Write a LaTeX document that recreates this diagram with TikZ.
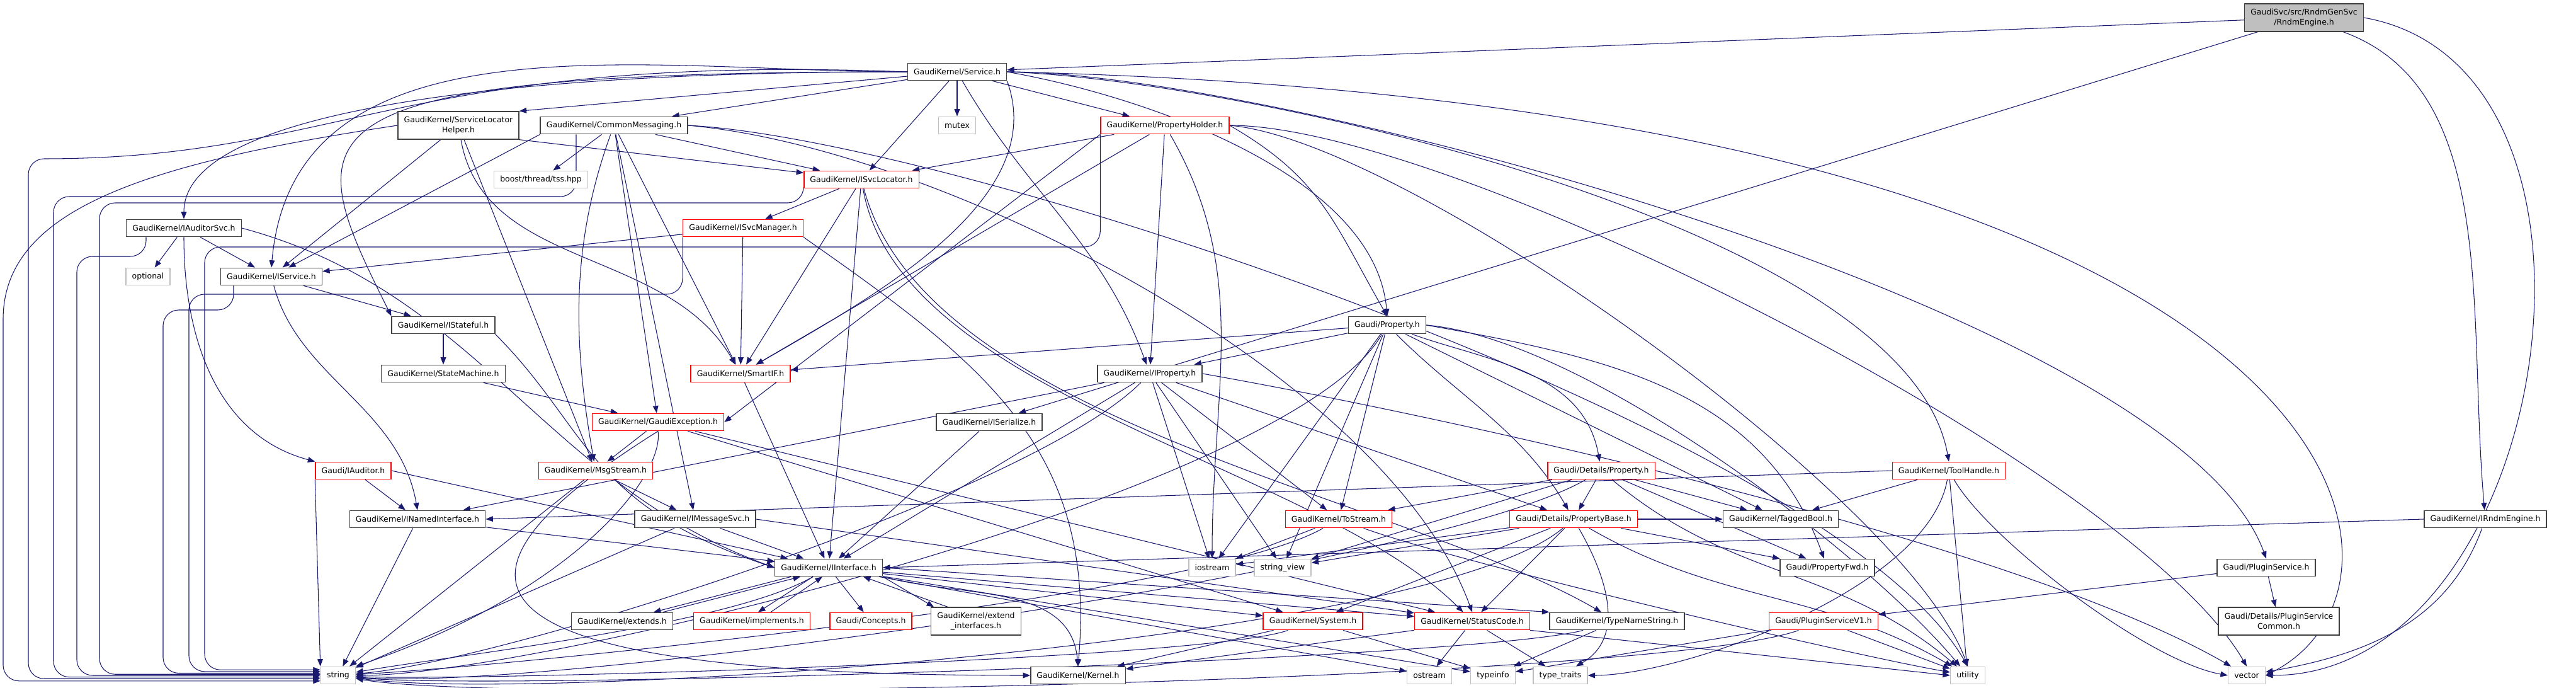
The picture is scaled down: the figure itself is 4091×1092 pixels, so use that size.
\documentclass[tikz,border=0pt]{standalone}
\usepackage{fontspec}
\setmainfont{DejaVu Sans}
\usepackage{tikz}
\usetikzlibrary{arrows.meta, positioning, backgrounds}
\definecolor{edgeblue}{RGB}{25,25,112}
\definecolor{hdrline}{RGB}{64,64,64}
\definecolor{sysline}{RGB}{191,191,191}
\definecolor{rootfill}{RGB}{191,191,191}
\definecolor{truncline}{RGB}{255,0,0}
\newcommand{\depfont}{\fontsize{7.1}{9}\selectfont}
\tikzset{
    hdr/.style={rectangle, draw=hdrline, fill=white, line width=0.8pt, font=\depfont, inner xsep=5.5pt, inner ysep=1pt, minimum height=15.6pt, align=center},
    twoline/.style={minimum height=25pt},
    hdrred/.style={hdr, draw=truncline},
    hdrsys/.style={hdr, draw=sysline},
    hdrroot/.style={hdr, fill=rootfill, twoline},
    dep/.style={-{Triangle[length=6.5pt, width=5pt]}, draw=edgeblue, line width=0.6pt},
    deplane/.style={dep, rounded corners=0.5cm}
}

\begin{document}
\begin{tikzpicture}[x=0.02cm, y=0.02cm]
    \useasboundingbox (0,0) rectangle (4091,1092);

    % Root file
    \node[hdrroot] (root) at (3659,1064) {GaudiSvc/src/RndmGenSvc\\/RndmEngine.h};

    % Service level
    \node[hdr] (svc) at (1520,978) {GaudiKernel/Service.h};
    \node[hdr, twoline] (slh) at (728,893) {GaudiKernel/ServiceLocator\\Helper.h};
    \node[hdr] (cmsg) at (975,893) {GaudiKernel/CommonMessaging.h};
    \node[hdrsys] (mutex) at (1520,893) {mutex};
    \node[hdrred] (pholder) at (1850,893) {GaudiKernel/PropertyHolder.h};
    \node[hdrsys] (boost) at (859,807) {boost/thread/tss.hpp};
    \node[hdrred] (isvcloc) at (1368,807) {GaudiKernel/ISvcLocator.h};
    \node[hdr] (iaudsvc) at (292,730) {GaudiKernel/IAuditorSvc.h};
    \node[hdrred] (isvcmgr) at (1180,730) {GaudiKernel/ISvcManager.h};
    \node[hdrsys] (optional) at (235,653) {optional};
    \node[hdr] (iservice) at (431,653) {GaudiKernel/IService.h};

    % Middle levels
    \node[hdr] (istateful) at (704,576) {GaudiKernel/IStateful.h};
    \node[hdr] (property) at (2203,576) {Gaudi/Property.h};
    \node[hdr] (smachine) at (704,499) {GaudiKernel/StateMachine.h};
    \node[hdrred] (smartif) at (1176,499) {GaudiKernel/SmartIF.h};
    \node[hdr] (iproperty) at (1826,499) {GaudiKernel/IProperty.h};
    \node[hdrred] (gexc) at (1045,422) {GaudiKernel/GaudiException.h};
    \node[hdr] (iserialize) at (1571,422) {GaudiKernel/ISerialize.h};
    \node[hdrred] (iauditor) at (561,345) {Gaudi/IAuditor.h};
    \node[hdrred] (msgstream) at (946,345) {GaudiKernel/MsgStream.h};
    \node[hdrred] (detprop) at (2543,345) {Gaudi/Details/Property.h};
    \node[hdrred] (toolhandle) at (3095,345) {GaudiKernel/ToolHandle.h};
    \node[hdr] (inamed) at (663,268) {GaudiKernel/INamedInterface.h};
    \node[hdr] (imsgsvc) at (1104,268) {GaudiKernel/IMessageSvc.h};
    \node[hdrred] (tostream) at (2126,268) {GaudiKernel/ToStream.h};
    \node[hdrred] (propbase) at (2499,268) {Gaudi/Details/PropertyBase.h};
    \node[hdr] (tagged) at (2828,268) {GaudiKernel/TaggedBool.h};
    \node[hdr] (irndm) at (3947,268) {GaudiKernel/IRndmEngine.h};
    \node[hdr] (iinterface) at (1316,191) {GaudiKernel/IInterface.h};
    \node[hdrsys] (iostream) at (1925,191) {iostream};
    \node[hdrsys] (strview) at (2037,191) {string\_view};
    \node[hdr] (propfwd) at (2902,191) {Gaudi/PropertyFwd.h};
    \node[hdr] (plugin) at (3599,191) {Gaudi/PluginService.h};
    \node[hdr] (extends) at (988,106) {GaudiKernel/extends.h};
    \node[hdrred] (implements) at (1194,106) {GaudiKernel/implements.h};
    \node[hdrred] (concepts) at (1383,106) {Gaudi/Concepts.h};
    \node[hdr, twoline] (extif) at (1550,106) {GaudiKernel/extend\\\_interfaces.h};
    \node[hdrred] (system) at (2085,106) {GaudiKernel/System.h};
    \node[hdrred] (statuscode) at (2338,106) {GaudiKernel/StatusCode.h};
    \node[hdr] (typename) at (2568,106) {GaudiKernel/TypeNameString.h};
    \node[hdrred] (pluginv1) at (2896,106) {Gaudi/PluginServiceV1.h};
    \node[hdr, twoline] (plugincommon) at (3619,106) {Gaudi/Details/PluginService\\Common.h};

    % System headers at the bottom
    \node[hdrsys] (str) at (537,20) {string};
    \node[hdr] (kernel) at (1712,20) {GaudiKernel/Kernel.h};
    \node[hdrsys] (ostream) at (2270,20) {ostream};
    \node[hdrsys] (typeinfo) at (2371,20) {typeinfo};
    \node[hdrsys] (typetraits) at (2478,20) {type\_traits};
    \node[hdrsys] (utility) at (3125,20) {utility};
    \node[hdrsys] (vector) at (3568,20) {vector};

    % Lanes on the left side down to string
    \coordinate (laneA) at (5,560);
    \coordinate (laneE) at (45,840);
    \coordinate (laneB) at (85,780);
    \coordinate (laneC) at (122,685);
    \coordinate (laneD) at (158,770);
    \coordinate (laneF) at (259,600);
    \coordinate (laneG) at (300,625);
    \coordinate (laneH) at (325,700);

    \begin{scope}[on background layer]
    % RndmEngine.h
    \draw[dep] (root) -- (svc);
    \draw[dep] (root) -- (iserialize);
    \draw[dep] (root) .. controls +(-20:330) and +(95:330) .. (irndm);
    \draw[dep] (root.east) .. controls +(-10:455) and +(0:455) .. (vector.east);

    % Service.h
    \draw[dep] (svc) -- (slh.north east);
    \draw[dep] (svc) -- (cmsg);
    \draw[dep] (svc) -- (mutex);
    \draw[dep] (svc) -- (pholder);
    \draw[dep] (svc) -- (isvcloc);
    \draw[dep] (svc) .. controls +(-60:222) and +(110:222) .. (iproperty);
    \draw[dep] (svc.south east) .. controls +(-70:200) and +(30:250) .. (smartif);
    \draw[dep] (svc.west) .. controls +(180:229) and +(90:229) .. (iaudsvc.north);
    \draw[dep] (svc.west) .. controls +(180:412) and +(85:412) .. (iservice.north);
    \draw[dep] (svc.west) .. controls +(-1000,0) and +(-150,300) .. (istateful.north west);
    \draw[dep] (svc.east) .. controls +(-10:224) and +(95:224) .. (property.north);
    \draw[dep] (svc.east) .. controls +(-2:380) and +(100:380) .. (toolhandle.north);
    \draw[dep] (svc.east) .. controls +(0:419) and +(110:419) .. (plugin.north);
    \draw[dep] (svc.east) .. controls +(2150,-50) and +(300,150) .. (vector.east);
    \draw[deplane] (svc.west) .. controls +(-800,30) and +(500,0) .. (laneE) |- ([yshift=-3pt]str.west);

    % ServiceLocatorHelper.h
    \draw[dep] (slh) -- (iservice);
    \draw[dep] (slh.south east) -- (isvcloc);
    \draw[dep] (slh) .. controls +(-80:234) and +(120:234) .. (smartif);
    \draw[dep] (slh) -- (msgstream);
    \draw[deplane] (slh.west) .. controls +(-400,-60) and +(0,200) .. (laneA) |- ([yshift=-5pt]str.west);

    % CommonMessaging.h
    \draw[dep] (cmsg) -- (boost);
    \draw[dep] (cmsg) -- (isvcloc);
    \draw[dep] (cmsg.south west) -- (iservice);
    \draw[dep] (cmsg) -- (gexc);
    \draw[dep] (cmsg) -- (smartif);
    \draw[dep] (cmsg) .. controls +(-110:204) and +(100:204) .. (msgstream);
    \draw[dep] (cmsg) -- (imsgsvc);
    \draw[dep] (cmsg.east) .. controls +(-5:402) and +(110:402) .. (statuscode.north);
    \draw[dep] (cmsg.east) .. controls +(-3:431) and +(120:431) .. (utility.north);
    \draw[deplane] ([xshift=-1.2cm]cmsg.south) |- (laneB) |- ([yshift=-1.5pt]str.west);

    % PropertyHolder.h
    \draw[dep] (pholder) -- (isvcloc);
    \draw[dep] (pholder) -- (iproperty);
    \draw[dep] (pholder) -- (smartif);
    \draw[dep] (pholder.south west) -- (gexc.east);
    \draw[dep] (pholder.east) .. controls +(-30:170) and +(120:170) .. (property.north);
    \draw[dep] (pholder) .. controls +(-60:271) and +(90:271) .. (iostream.north);
    \draw[dep] (pholder.east) .. controls +(-5:284) and +(110:284) .. (utility.north);
    \draw[dep] (pholder.east) .. controls +(0:357) and +(120:357) .. (vector.north);
    \draw[deplane] (pholder.south west) |- (laneH) |- ([yshift=5pt]str.west);

    % ISvcLocator.h
    \draw[dep] (isvcloc) -- (isvcmgr);
    \draw[dep] (isvcloc) -- (smartif);
    \draw[dep] (isvcloc) -- (iinterface);
    \draw[dep] (isvcloc) .. controls +(-80:350) and +(135:350) .. (statuscode);
    \draw[dep] (isvcloc) .. controls +(-75:400) and +(150:400) .. (typename);
    \draw[deplane] (isvcloc.south west) |- (laneD) |- ([yshift=1pt]str.west);

    % IAuditorSvc.h
    \draw[dep] (iaudsvc) -- (optional);
    \draw[dep] (iaudsvc) -- (iservice);
    \draw[dep] (iaudsvc.south) .. controls +(-90:161) and +(165:161) .. (iauditor.north west);
    \draw[dep] (iaudsvc.east) .. controls +(-15:392) and +(160:392) .. (iinterface.west);
    \draw[deplane] ([xshift=-1.2cm]iaudsvc.south) |- (laneC) |- ([yshift=0pt]str.west);

    % ISvcManager.h
    \draw[dep] (isvcmgr) -- (iservice);
    \draw[dep] (isvcmgr) -- (smartif);
    \draw[dep] (isvcmgr.south east) .. controls +(-35:347) and +(85:347) .. (kernel.north);
    \draw[deplane] (isvcmgr.south west) |- (laneG) |- ([yshift=3.5pt]str.west);

    % IService.h and IStateful.h
    \draw[dep] (iservice) -- (istateful);
    \draw[dep] (iservice) .. controls +(-75:166) and +(100:166) .. (inamed.north);
    \draw[deplane] ([xshift=-1.2cm]iservice.south) |- (laneF) |- ([yshift=2pt]str.west);
    \draw[dep] (istateful) -- (smachine);
    \draw[dep] (istateful.south east) .. controls +(150,-150) and +(-300,100) .. (iinterface.west);
    \draw[dep] (smachine) -- (gexc);
    \draw[dep] (smartif) -- (iinterface);
    \draw[dep] (iserialize) -- (iinterface);

    % IProperty.h
    \draw[dep] (iproperty) -- (iinterface);
    \draw[dep] (iproperty) -- (inamed);
    \draw[dep] (iproperty) -- (iostream);
    \draw[dep] (iproperty) -- (strview);
    \draw[dep] (iproperty) -- (tostream);
    \draw[dep] (iproperty) -- (propbase);
    \draw[dep] (iproperty) .. controls +(-135:269) and +(5:269) .. (str);
    \draw[dep] (iproperty.east) .. controls +(-10:420) and +(150:420) .. (vector);

    % Gaudi/Property.h
    \draw[dep] (property) -- (iproperty);
    \draw[dep] (property) -- (smartif);
    \draw[dep] (property) .. controls +(-20:162) and +(100:162) .. (detprop);
    \draw[dep] (property) .. controls +(-45:162) and +(120:162) .. (propbase);
    \draw[dep] (property) -- (tostream);
    \draw[dep] (property) -- (tagged);
    \draw[dep] (property.east) .. controls +(-10:298) and +(110:298) .. (propfwd);
    \draw[dep] (property) -- (iostream);
    \draw[dep] (property) -- (strview);
    \draw[dep] (property.east) .. controls +(-5:255) and +(130:255) .. (utility);
    \draw[dep] (property) .. controls +(-120:309) and +(0:309) .. (str);

    % GaudiException.h
    \draw[dep] (gexc) -- (msgstream);
    \draw[dep] (gexc) -- (statuscode);
    \draw[dep] (gexc) -- (system);
    \draw[dep] (gexc.south) .. controls +(-400,-250) and +(-900,0) .. (kernel.west);
    \draw[dep] (gexc.south) .. controls +(10,-70) and +(350,120) .. (str.north east);

    % IAuditor.h, MsgStream.h, INamedInterface.h, IMessageSvc.h
    \draw[dep] (iauditor) -- (inamed);
    \draw[dep] (iauditor.east) -- (iinterface);
    \draw[dep] (iauditor.south west) -- (str.north west);
    \draw[dep] (msgstream) -- (imsgsvc);
    \draw[dep] (msgstream) -- (str);
    \draw[dep] (inamed) -- (iinterface);
    \draw[dep] (inamed) -- (str);
    \draw[dep] (imsgsvc) -- (iinterface);
    \draw[dep] (imsgsvc.east) -- (statuscode);
    \draw[dep] (imsgsvc) -- (str);

    % Details/Property.h
    \draw[dep] (detprop) -- (propbase);
    \draw[dep] (detprop) -- (tostream);
    \draw[dep] (detprop) -- (tagged);
    \draw[dep] (detprop) -- (propfwd);
    \draw[dep] (detprop) -- (strview);
    \draw[dep] (detprop) .. controls +(-40:273) and +(140:273) .. (utility);
    \draw[dep] (detprop) .. controls +(-150:318) and +(-5:318) .. (str);

    % ToolHandle.h
    \draw[dep] (toolhandle) -- (tagged);
    \draw[dep] (toolhandle.west) -- (inamed.east);
    \draw[dep] (toolhandle) -- (utility);
    \draw[dep] (toolhandle) .. controls +(-60:128) and +(170:128) .. (vector.west);
    \draw[dep] (toolhandle) .. controls +(-100:192) and +(0:192) .. (typetraits);

    % ToStream.h
    \draw[dep] (tostream) -- (iostream);
    \draw[dep] (tostream) .. controls +(-20:201) and +(170:201) .. (utility);
    \draw[dep] (tostream) .. controls +(-150:252) and +(3:252) .. (str);

    % Details/PropertyBase.h
    \draw[dep] (propbase) -- (statuscode);
    \draw[dep] (propbase) -- (system);
    \draw[dep] (propbase) -- (strview);
    \draw[dep] (propbase) -- (iostream);
    \draw[dep] (propbase) -- (propfwd);
    \draw[dep] (propbase) -- (tagged);
    \draw[dep] (propbase) .. controls +(-60:116) and +(30:116) .. (typetraits);
    \draw[dep] (propbase) .. controls +(-30:270) and +(150:270) .. (utility);
    \draw[dep] (propbase) .. controls +(-140:310) and +(-8:310) .. (str);

    % IRndmEngine.h and plugins
    \draw[dep] (irndm) .. controls +(-110:181) and +(10:181) .. (vector);
    \draw[dep] (irndm.west) -- (iinterface.east);
    \draw[dep] (plugin) -- (pluginv1);
    \draw[dep] (plugin) -- (plugincommon);
    \draw[dep] (pluginv1) -- (utility);
    \draw[dep] (pluginv1) -- (typeinfo);
    \draw[dep] (pluginv1) .. controls +(-160:277) and +(-10:277) .. (str);

    % IInterface.h
    \draw[dep] ([xshift=-1.2cm]iinterface.south) -- ([xshift=1cm]extends.north);
    \draw[dep] ([xshift=1.3cm]extends.north) -- ([xshift=-0.9cm]iinterface.south);
    \draw[dep] ([xshift=-0.5cm]iinterface.south) -- ([xshift=0.2cm]implements.north);
    \draw[dep] ([xshift=0.6cm]implements.north) -- ([xshift=-0.2cm]iinterface.south);
    \draw[dep] (iinterface) -- (concepts);
    \draw[dep] (iinterface.south east) -- ([xshift=0.1cm]extif.north west);
    \draw[dep] ([xshift=-0.9cm]extif.north) -- ([xshift=1.1cm]iinterface.south);
    \draw[dep] (iinterface) -- (system);
    \draw[dep] (iinterface) -- (statuscode);
    \draw[dep] (iinterface.east) -- (typename.north west);
    \draw[dep] (iinterface.south east) .. controls +(-15:133) and +(95:133) .. (kernel.north);
    \draw[dep] (iinterface) -- (ostream);
    \draw[dep] (iinterface) -- (typeinfo);
    \draw[dep] (iinterface) .. controls +(-150:185) and +(10:185) .. (str);

    % System.h, StatusCode.h, TypeNameString.h
    \draw[dep] (system) -- (kernel);
    \draw[dep] (system) -- (typeinfo);
    \draw[dep] (system) .. controls +(-160:182) and +(-3:182) .. (str);
    \draw[dep] (statuscode.south west) -- (kernel);
    \draw[dep] (statuscode) -- (ostream);
    \draw[dep] (statuscode) -- (typetraits);
    \draw[dep] (statuscode.south east) -- (utility.west);
    \draw[dep] (typename) -- (typeinfo);
    \draw[dep] (typename) .. controls +(-165:238) and +(-6:238) .. (str);
    \end{scope}
\end{tikzpicture}
\end{document}
